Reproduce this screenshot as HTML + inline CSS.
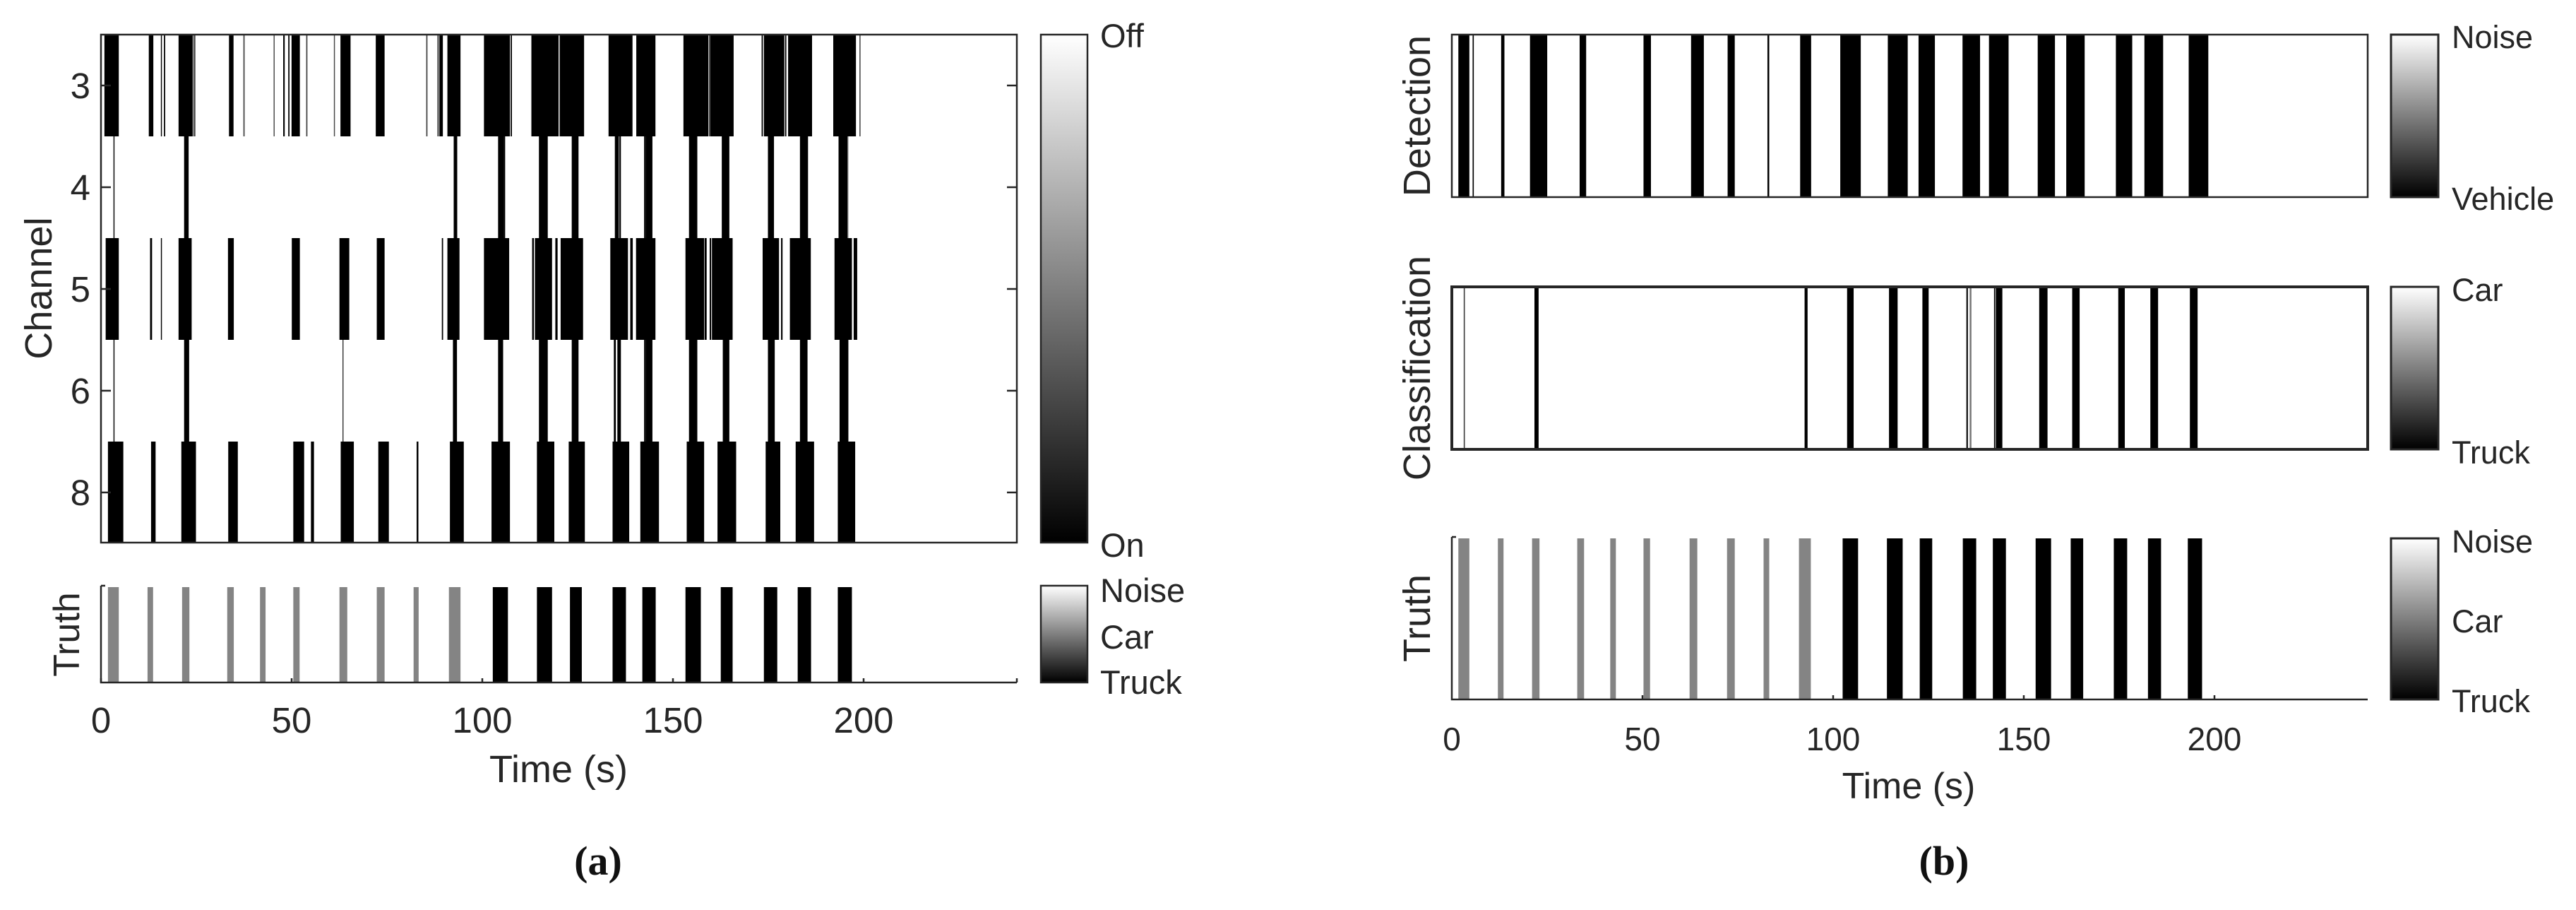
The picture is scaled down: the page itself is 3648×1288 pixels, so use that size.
<!DOCTYPE html>
<html><head><meta charset="utf-8"><style>
html,body{margin:0;padding:0;background:#fff;}
svg{display:block;font-family:"Liberation Sans",sans-serif;}
</style></head><body>
<svg width="3648" height="1288" viewBox="0 0 3648 1288" xmlns="http://www.w3.org/2000/svg">
<defs>
<linearGradient id="g1" x1="0" y1="0" x2="0" y2="1"><stop offset="0" stop-color="#fff"/><stop offset="1" stop-color="#000"/></linearGradient>
</defs>
<rect width="3648" height="1288" fill="#fff"/>

<g fill="#000">
<g transform="translate(140,0) scale(0.357143,1)">
 <g transform="translate(0,49)">
  <rect x="22" width="57" height="144"/><rect x="198" width="18" height="144"/><rect x="246" width="4" height="144"/><rect x="258" width="5" height="144"/><rect x="316" width="56" height="144"/><rect x="374" width="9" height="144" fill="#555"/><rect x="516" width="18" height="144"/><rect x="573" width="5" height="144" fill="#444"/><rect x="693" width="4" height="144" fill="#444"/><rect x="731" width="6" height="144"/><rect x="751" width="5" height="144"/><rect x="764" width="33" height="144"/><rect x="822" width="5" height="144" fill="#444"/><rect x="932" width="4" height="144" fill="#444"/><rect x="958" width="40" height="144"/><rect x="1098" width="35" height="144"/><rect x="1298" width="5" height="144" fill="#444"/><rect x="1343" width="4" height="144"/><rect x="1350" width="14" height="144"/><rect x="1382" width="52" height="144"/><rect x="1527" width="45" height="144"/>
 </g>
 <g transform="translate(0,193)">
  <rect x="58" width="4" height="144"/><rect x="338" width="18" height="144"/><rect x="1407" width="14" height="144"/>
 </g>
 <g transform="translate(0,337)">
  <rect x="27" width="52" height="144"/><rect x="203" width="8" height="144"/><rect x="246" width="4" height="144"/><rect x="316" width="52" height="144"/><rect x="512" width="23" height="144"/><rect x="765" width="32" height="144"/><rect x="954" width="39" height="144"/><rect x="1102" width="31" height="144"/><rect x="1360" width="5" height="144"/><rect x="1382" width="48" height="144"/><rect x="1527" width="45" height="144"/>
 </g>
 <g transform="translate(0,481)">
  <rect x="58" width="4" height="144"/><rect x="338" width="20" height="144"/><rect x="966" width="4" height="144" fill="#333"/><rect x="1404" width="16" height="144"/>
 </g>
 <g transform="translate(0,625)">
  <rect x="36" width="61" height="143"/><rect x="207" width="18" height="143"/><rect x="327" width="58" height="143"/><rect x="513" width="38" height="143"/><rect x="771" width="43" height="143"/><rect x="841" width="12" height="143"/><rect x="959" width="52" height="143"/><rect x="1108" width="42" height="143"/><rect x="1260" width="7" height="143"/><rect x="1392" width="55" height="143"/><rect x="1557" width="15" height="143"/>
 </g>
 <g transform="translate(0,831)" fill="#848484">
  <rect x="36" width="43" height="135"/><rect x="193" width="22" height="135"/><rect x="330" width="29" height="135"/><rect x="509" width="26" height="135"/><rect x="639" width="22" height="135"/><rect x="771" width="25" height="135"/><rect x="954" width="31" height="135"/><rect x="1102" width="31" height="135"/><rect x="1248" width="20" height="135"/><rect x="1388" width="46" height="135"/>
 </g>
</g>
<g transform="translate(690,0) scale(0.357143,1)">
 <g transform="translate(0,49)">
  <rect x="0" width="90" height="144"/><rect x="93" width="5" height="144"/><rect x="175" width="108" height="144"/><rect x="287" width="97" height="144"/><rect x="481" width="95" height="144"/><rect x="591" width="76" height="144"/><rect x="778" width="99" height="144"/><rect x="880" width="3" height="144"/><rect x="884" width="93" height="144"/><rect x="1088" width="5" height="144"/><rect x="1097" width="81" height="144"/><rect x="1181" width="5" height="144"/><rect x="1193" width="95" height="144"/><rect x="1372" width="90" height="144"/><rect x="1476" width="4" height="144" fill="#333"/>
 </g>
 <g transform="translate(0,193)">
  <rect x="43" width="24" height="144"/><rect x="67" width="4" height="144"/><rect x="205" width="35" height="144"/><rect x="335" width="27" height="144"/><rect x="506" width="16" height="144"/><rect x="524" width="6" height="144"/><rect x="622" width="6" height="144"/><rect x="628" width="27" height="144"/><rect x="800" width="33" height="144"/><rect x="930" width="30" height="144"/><rect x="1113" width="24" height="144"/><rect x="1240" width="32" height="144"/><rect x="1393" width="35" height="144"/><rect x="1428" width="4" height="144" fill="#777"/>
 </g>
 <g transform="translate(0,337)">
  <rect x="0" width="87" height="144"/><rect x="178" width="7" height="144"/><rect x="189" width="68" height="144"/><rect x="270" width="9" height="144"/><rect x="291" width="89" height="144"/><rect x="488" width="70" height="144"/><rect x="567" width="10" height="144"/><rect x="590" width="77" height="144"/><rect x="786" width="74" height="144"/><rect x="862" width="8" height="144"/><rect x="882" width="6" height="144"/><rect x="891" width="82" height="144"/><rect x="1092" width="65" height="144"/><rect x="1165" width="6" height="144"/><rect x="1200" width="83" height="144"/><rect x="1377" width="69" height="144"/><rect x="1453" width="14" height="144"/>
 </g>
 <g transform="translate(0,481)">
  <rect x="43" width="20" height="144"/><rect x="205" width="35" height="144"/><rect x="335" width="27" height="144"/><rect x="502" width="8" height="144"/><rect x="516" width="14" height="144"/><rect x="622" width="6" height="144"/><rect x="628" width="27" height="144"/><rect x="800" width="33" height="144"/><rect x="934" width="26" height="144"/><rect x="1113" width="27" height="144"/><rect x="1240" width="30" height="144"/><rect x="1397" width="35" height="144"/>
 </g>
 <g transform="translate(0,625)">
  <rect x="18" width="72" height="143"/><rect x="197" width="69" height="143"/><rect x="323" width="64" height="143"/><rect x="497" width="66" height="143"/><rect x="607" width="74" height="143"/><rect x="791" width="69" height="143"/><rect x="913" width="74" height="143"/><rect x="1104" width="58" height="143"/><rect x="1223" width="73" height="143"/><rect x="1390" width="69" height="143"/>
 </g>
 <g transform="translate(0,831)">
  <rect x="22" width="60" height="135"/><rect x="197" width="60" height="135"/><rect x="328" width="47" height="135"/><rect x="497" width="53" height="135"/><rect x="615" width="53" height="135"/><rect x="786" width="61" height="135"/><rect x="926" width="47" height="135"/><rect x="1097" width="53" height="135"/><rect x="1231" width="53" height="135"/><rect x="1390" width="56" height="135"/>
 </g>
</g>
</g>

<g stroke="#262626" stroke-width="2.5" fill="none">
 <rect x="143" y="49" width="1297" height="719"/>
 <path d="M143 829 V966 H1440"/>
 <path d="M143 121h14M143 265h14M143 409h14M143 553h14M143 697h14M1440 121h-14M1440 265h-14M1440 409h-14M1440 553h-14M1440 697h-14"/>
 <path d="M143 829h6M143 966v-6M413 966v-6M683 966v-6M953 966v-6M1223 966v-6M1440 966v-6"/>
 <rect x="1474" y="49" width="66" height="719" fill="url(#g1)"/>
 <rect x="1474" y="829" width="66" height="137" fill="url(#g1)"/>
</g>
<g font-size="51" fill="#262626">
 <g text-anchor="end"><text x="128" y="139">3</text><text x="128" y="283">4</text><text x="128" y="427">5</text><text x="128" y="571">6</text><text x="128" y="715">8</text></g>
 <g text-anchor="middle"><text x="143" y="1037">0</text><text x="413" y="1037">50</text><text x="683" y="1037">100</text><text x="953" y="1037">150</text><text x="1223" y="1037">200</text></g>
 <text x="791" y="1107" text-anchor="middle" font-size="54">Time (s)</text>
 <text transform="translate(73,408) rotate(-90)" text-anchor="middle" font-size="54">Channel</text>
 <text transform="translate(112,898) rotate(-90)" text-anchor="middle" font-size="52">Truth</text>
 <g font-size="47"><text x="1558" y="67">Off</text><text x="1558" y="788">On</text><text x="1558" y="852">Noise</text><text x="1558" y="918">Car</text><text x="1558" y="982">Truck</text></g>
</g>
<text x="847" y="1238" text-anchor="middle" font-family="Liberation Serif,serif" font-weight="bold" font-size="58" fill="#111">(a)</text>

<g fill="#000">
<g transform="translate(2040,0) scale(0.42088,1)">
 <g transform="translate(0,49)">
  <rect x="60" width="37" height="230"/><rect x="108" width="4" height="230"/><rect x="204" width="11" height="230"/><rect x="301" width="58" height="230"/><rect x="468" width="22" height="230"/><rect x="683" width="25" height="230"/><rect x="843" width="43" height="230"/><rect x="966" width="24" height="230"/><rect x="1100" width="6" height="230"/><rect x="1210" width="37" height="230"/><rect x="1345" width="69" height="230"/><rect x="1505" width="67" height="230"/>
 </g>
 <g transform="translate(0,406)">
  <rect x="78" width="4" height="230" fill="#444"/><rect x="316" width="14" height="230"/><rect x="1225" width="10" height="230"/><rect x="1368" width="22" height="230"/><rect x="1509" width="29" height="230"/>
 </g>
 <g transform="translate(0,762)">
  <g fill="#848484"><rect x="60" width="37" height="228"/><rect x="193" width="19" height="228"/><rect x="308" width="25" height="228"/><rect x="460" width="23" height="228"/><rect x="571" width="19" height="228"/><rect x="683" width="22" height="228"/><rect x="838" width="26" height="228"/><rect x="964" width="26" height="228"/><rect x="1087" width="19" height="228"/><rect x="1206" width="40" height="228"/></g>
  <rect x="1353" width="52" height="228"/><rect x="1502" width="53" height="228"/>
 </g>
</g>
<g transform="translate(2690,0) scale(0.42088,1)">
 <g transform="translate(0,49)">
  <rect x="0" width="18" height="230"/><rect x="64" width="55" height="230"/><rect x="212" width="59" height="230"/><rect x="301" width="66" height="230"/><rect x="465" width="58" height="230"/><rect x="561" width="62" height="230"/><rect x="728" width="55" height="230"/><rect x="824" width="63" height="230"/><rect x="973" width="66" height="230"/>
 </g>
 <g transform="translate(0,406)">
  <rect x="77" width="21" height="230"/><rect x="225" width="5" height="230"/><rect x="236" width="6" height="230" fill="#777"/><rect x="318" width="4" height="230"/><rect x="324" width="22" height="230"/><rect x="470" width="28" height="230"/><rect x="581" width="25" height="230"/><rect x="736" width="22" height="230"/><rect x="844" width="26" height="230"/><rect x="977" width="26" height="230"/>
 </g>
 <g transform="translate(0,762)">
  <rect x="68" width="42" height="228"/><rect x="213" width="45" height="228"/><rect x="314" width="44" height="228"/><rect x="458" width="52" height="228"/><rect x="576" width="42" height="228"/><rect x="721" width="45" height="228"/><rect x="836" width="44" height="228"/><rect x="970" width="48" height="228"/>
 </g>
</g>
</g>

<g stroke="#262626" fill="none">
 <rect x="2056" y="49" width="1297" height="230" stroke-width="2.5"/>
 <rect x="2056" y="406" width="1297" height="230" stroke-width="4"/>
 <path d="M2056 760 V990 H3353" stroke-width="2.5"/>
 <path d="M2056 760h6M2326 990v-6M2596 990v-6M2866 990v-6M3136 990v-6" stroke-width="2.5"/>
 <rect x="3386" y="49" width="67" height="230" fill="url(#g1)" stroke-width="3"/>
 <rect x="3386" y="406" width="67" height="230" fill="url(#g1)" stroke-width="3"/>
 <rect x="3386" y="762" width="67" height="228" fill="url(#g1)" stroke-width="3"/>
</g>
<g font-size="46" fill="#262626">
 <g text-anchor="middle"><text x="2056" y="1062">0</text><text x="2326" y="1062">50</text><text x="2596" y="1062">100</text><text x="2866" y="1062">150</text><text x="3136" y="1062">200</text></g>
 <text x="2703" y="1130" text-anchor="middle" font-size="52">Time (s)</text>
 <g font-size="54">
 <text transform="translate(2025,164) rotate(-90)" text-anchor="middle">Detection</text>
 <text transform="translate(2025,521) rotate(-90)" text-anchor="middle">Classification</text>
 <text transform="translate(2025,875) rotate(-90)" text-anchor="middle">Truth</text>
 </g>
 <g font-size="45"><text x="3472" y="68">Noise</text><text x="3472" y="297">Vehicle</text><text x="3472" y="426">Car</text><text x="3472" y="656">Truck</text><text x="3472" y="782">Noise</text><text x="3472" y="895">Car</text><text x="3472" y="1008">Truck</text></g>
</g>
<text x="2753" y="1238" text-anchor="middle" font-family="Liberation Serif,serif" font-weight="bold" font-size="58" fill="#111">(b)</text>
</svg>
</body></html>
